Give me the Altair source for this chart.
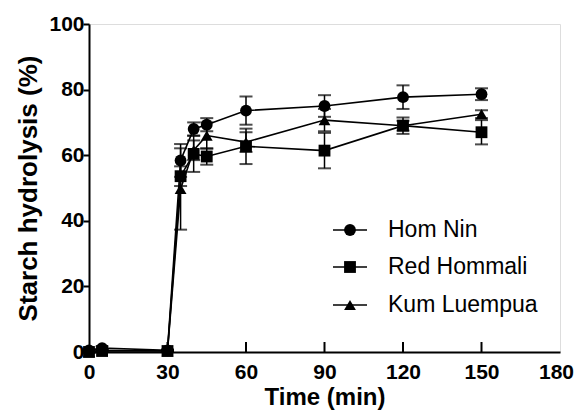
import altair as alt
import pandas as pd

# ---- data ----
times = [0, 5, 30, 35, 40, 45, 60, 90, 120, 150]
cultivars = ["Hom Nin", "Red Hommali", "Kum Luempua"]

hom_nin_mean = [0.5, 1.2, 0.5, 58.4, 68.0, 69.3, 73.6, 75.0, 77.7, 78.6]
hom_nin_sd = [0.3, 0.5, 0.3, 5.0, 2.0, 2.0, 4.3, 3.3, 3.6, 1.8]

red_hommali_mean = [0.0, 0.3, 0.3, 53.6, 60.4, 59.6, 62.7, 61.4, 69.0, 67.0]
red_hommali_sd = [0.2, 0.3, 0.3, 3.0, 5.5, 2.5, 5.4, 5.4, 2.5, 3.7]

kum_luempua_mean = [0.0, 0.5, 0.3, 49.7, 61.5, 66.0, 64.0, 70.7, 69.0, 72.5]
kum_luempua_sd = [0.2, 0.3, 0.3, 12.4, 3.0, 4.0, 3.0, 3.4, 1.5, 1.2]

x_ticks = [0, 30, 60, 90, 120, 150, 180]
x_inner_ticks = [30, 60, 90, 120, 150]
y_ticks = [0, 20, 40, 60, 80, 100]
shapes = ["circle", "square", "triangle-up"]

rows = []
for name, means, sds in zip(
    cultivars,
    [hom_nin_mean, red_hommali_mean, kum_luempua_mean],
    [hom_nin_sd, red_hommali_sd, kum_luempua_sd],
):
    for t, m, s in zip(times, means, sds):
        rows.append({"time": t, "cultivar": name, "mean": m, "lo": m - s, "hi": m + s})
df = pd.DataFrame(rows)

FONT = "Liberation Sans"
W, H = 471, 328

xscale = alt.Scale(domain=[0, 180], nice=False, zero=False)
yscale = alt.Scale(domain=[0, 100], nice=False)

xaxis = alt.Axis(
    values=x_ticks, title="Time (min)", tickSize=0, labelPadding=9, labelFlush=False,
    labelOffset={"condition": {"test": "datum.value === 180", "value": -4}, "value": 0},
    labelFont=FONT, labelFontSize=21, labelFontWeight="bold", labelColor="black",
    titleFont=FONT, titleFontSize=24, titleFontWeight="bold", titleColor="black",
    titlePadding=3, grid=False, domainColor="black", domainWidth=2,
)
yaxis = alt.Axis(
    values=y_ticks, title="Starch hydrolysis (%)", tickSize=6, tickWidth=2,
    tickColor="black", labelPadding=-1, labelFlush=False,
    labelFont=FONT, labelFontSize=21, labelFontWeight="bold", labelColor="black",
    titleFont=FONT, titleFontSize=26, titleFontWeight="bold", titleColor="black",
    titlePadding=7, grid=False, domainColor="black", domainWidth=2,
)

X = alt.X("time:Q", scale=xscale, axis=xaxis)

base = alt.Chart(df)

lines = base.mark_line(color="black", strokeWidth=1.6).encode(
    x=X, y=alt.Y("mean:Q", scale=yscale, axis=yaxis), detail="cultivar:N"
)
err = base.mark_rule(color="black", strokeWidth=1.5).encode(
    x=X, y=alt.Y("lo:Q", scale=yscale, axis=yaxis), y2="hi:Q"
)
cap_lo = base.mark_tick(orient="horizontal", size=13, thickness=2, color="black").encode(
    x=X, y=alt.Y("lo:Q", scale=yscale, axis=yaxis)
)
cap_hi = base.mark_tick(orient="horizontal", size=13, thickness=2, color="black").encode(
    x=X, y=alt.Y("hi:Q", scale=yscale, axis=yaxis)
)
points = base.mark_point(filled=True, color="black", opacity=1, size=140).encode(
    x=X, y=alt.Y("mean:Q", scale=yscale, axis=yaxis),
    shape=alt.Shape("cultivar:N", scale=alt.Scale(domain=cultivars, range=shapes), legend=None),
)

tick_df = pd.DataFrame({"t": x_inner_ticks})
inner_ticks = alt.Chart(tick_df).mark_rule(color="black", strokeWidth=2).encode(
    x=alt.X("t:Q", scale=xscale, axis=xaxis), y=alt.value(H), y2=alt.value(H - 10)
)

# ---- legend (inside the plot, lower right) ----
legend_layers = []
leg_y = [206, 243, 281]
for name, shp, yp in zip(cultivars, shapes, leg_y):
    ldf = pd.DataFrame({"label": [name]})
    lc = alt.Chart(ldf)
    legend_layers.append(
        lc.mark_rule(color="black", strokeWidth=1.6).encode(
            x=alt.value(244), x2=alt.value(278), y=alt.value(yp)
        )
    )
    legend_layers.append(
        lc.mark_point(filled=True, color="black", opacity=1, size=140).encode(
            x=alt.value(261), y=alt.value(yp), shape=alt.value(shp)
        )
    )
    legend_layers.append(
        lc.mark_text(align="left", baseline="middle", font=FONT, fontSize=23, color="black").encode(
            x=alt.value(299), y=alt.value(yp), text="label:N"
        )
    )

chart = alt.layer(
    lines, err, cap_lo, cap_hi, points, inner_ticks, *legend_layers
).properties(
    width=W, height=H,
    autosize=alt.AutoSizeParams(type="none"),
    padding={"left": 81, "top": 16, "right": 14, "bottom": 58},
).configure_view(
    stroke="black", strokeWidth=2
).configure(background="white")

chart.save("out.html", embed_options={"renderer": "svg", "actions": False})
